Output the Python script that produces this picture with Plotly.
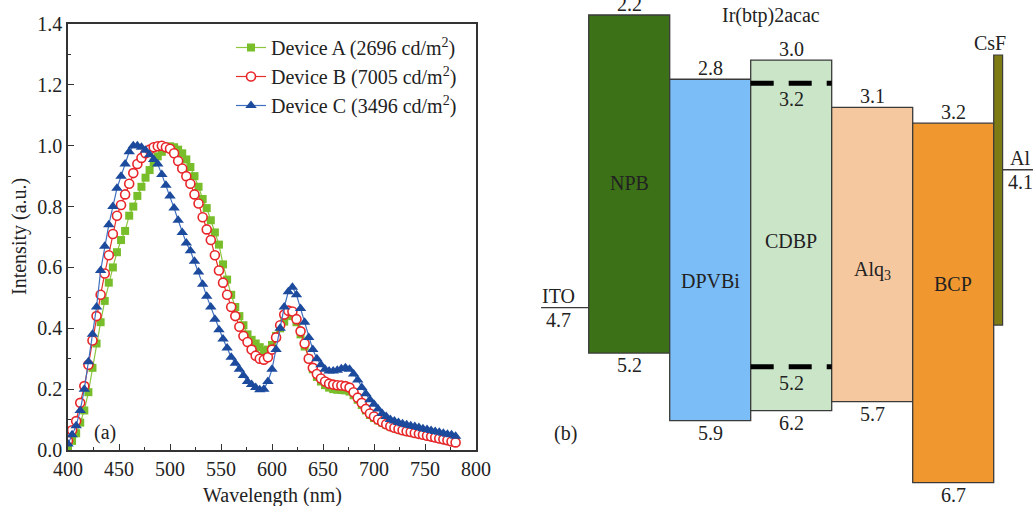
import plotly.graph_objects as go

# ---------------- Panel (a) data: EL spectra ----------------
wavelength = list(range(400, 781, 4))

dev_a = [0.005, 0.03, 0.055, 0.09, 0.13, 0.19, 0.27, 0.35, 0.42, 0.49,
         0.55, 0.60, 0.65, 0.69, 0.72, 0.77, 0.80, 0.835, 0.865, 0.895,
         0.92, 0.945, 0.965, 0.98, 0.99, 0.998, 0.995, 0.987, 0.975, 0.955,
         0.93, 0.90, 0.865, 0.825, 0.795, 0.755, 0.715, 0.675, 0.61, 0.56,
         0.51, 0.47, 0.44, 0.41, 0.38, 0.362, 0.35, 0.338, 0.325, 0.33,
         0.345, 0.375, 0.40, 0.422, 0.442, 0.44, 0.42, 0.38, 0.34, 0.30,
         0.265, 0.24, 0.225, 0.213, 0.205, 0.20, 0.198, 0.197, 0.196, 0.192,
         0.18, 0.165, 0.148, 0.13, 0.115, 0.105, 0.097, 0.09, 0.083, 0.077,
         0.072, 0.068, 0.064, 0.061, 0.058, 0.055, 0.052, 0.049, 0.046, 0.043,
         0.04, 0.037, 0.034, 0.031, 0.028, 0.026]

dev_b = [0.03, 0.065, 0.095, 0.155, 0.21, 0.28, 0.36, 0.44, 0.51, 0.58,
         0.64, 0.71, 0.77, 0.805, 0.84, 0.875, 0.91, 0.94, 0.96, 0.975,
         0.987, 0.995, 0.998, 1.0, 0.995, 0.99, 0.975, 0.95, 0.925, 0.90,
         0.875, 0.84, 0.81, 0.765, 0.725, 0.69, 0.64, 0.59, 0.55, 0.51,
         0.47, 0.44, 0.405, 0.375, 0.355, 0.33, 0.31, 0.30, 0.297, 0.305,
         0.33, 0.37, 0.41, 0.445, 0.458, 0.455, 0.43, 0.39, 0.35, 0.30,
         0.27, 0.25, 0.235, 0.225, 0.218, 0.215, 0.213, 0.212, 0.21, 0.205,
         0.19, 0.172, 0.155, 0.135, 0.12, 0.11, 0.10, 0.092, 0.085, 0.078,
         0.073, 0.069, 0.065, 0.062, 0.059, 0.056, 0.053, 0.05, 0.047, 0.044,
         0.041, 0.038, 0.035, 0.032, 0.028, 0.025]

dev_c = [0.02, 0.05, 0.08, 0.13, 0.20, 0.29, 0.38, 0.47, 0.59, 0.67,
         0.74, 0.80, 0.86, 0.90, 0.94, 0.98, 1.0, 1.0, 0.995, 0.985,
         0.97, 0.955, 0.94, 0.905, 0.87, 0.835, 0.795, 0.755, 0.715, 0.68,
         0.655, 0.62, 0.585, 0.545, 0.505, 0.47, 0.43, 0.395, 0.365, 0.335,
         0.305, 0.285, 0.265, 0.245, 0.225, 0.215, 0.205, 0.198, 0.20, 0.225,
         0.265, 0.33, 0.40, 0.47, 0.52, 0.535, 0.51, 0.465, 0.42, 0.37,
         0.33, 0.30, 0.28, 0.265, 0.26, 0.26, 0.262, 0.267, 0.27, 0.265,
         0.25, 0.23, 0.205, 0.185, 0.165, 0.15, 0.135, 0.12, 0.11, 0.10,
         0.095, 0.09, 0.086, 0.083, 0.08, 0.077, 0.074, 0.07, 0.067, 0.064,
         0.061, 0.058, 0.055, 0.052, 0.05, 0.045]

series_names = ["Device A (2696 cd/m<sup>2</sup>)",
                "Device B (7005 cd/m<sup>2</sup>)",
                "Device C (3496 cd/m<sup>2</sup>)"]

x_ticks = [400, 450, 500, 550, 600, 650, 700, 750, 800]
y_ticks = [0.0, 0.2, 0.4, 0.6, 0.8, 1.0, 1.2, 1.4]

# ---------------- Panel (b) data: energy levels ----------------
layers = ["NPB", "DPVBi", "CDBP", "Alq<sub>3</sub>", "BCP"]
lumo_label = ["2.2", "2.8", "3.0", "3.1", "3.2"]
homo_label = ["5.2", "5.9", "6.2", "5.7", "6.7"]
# levels as drawn in the (not-to-scale) diagram (eV)
lumo_drawn = [2.20, 2.77, 2.60, 3.02, 3.16]
homo_drawn = [5.20, 5.80, 5.71, 5.63, 6.35]
name_level = [3.69, 4.56, 4.205, 4.47, 4.59]
layer_colors = ["#3D7118", "#7BBDF6", "#CBE5C9", "#F6C8A0", "#F0982F"]

dopant = "Ir(btp)2acac"
dopant_lumo_label, dopant_homo_label = "3.2", "5.2"
dopant_lumo_drawn, dopant_homo_drawn = 2.806, 5.321

csf_top, csf_bottom = 2.555, 4.951
ito_label, ito_drawn = "4.7", 4.797
al_label, al_drawn = "4.1", 3.573

FONT = "Liberation Serif"
TXT = "#222222"
AX = "#333333"

fig = go.Figure()

styles = [
    dict(line=dict(color="#8CC63F", width=1.2),
         marker=dict(symbol="square", size=8, color="#78BE2A")),
    dict(line=dict(color="#E8302A", width=1.2),
         marker=dict(symbol="circle", size=9, color="white",
                     line=dict(width=1.6, color="#E8262A"))),
    dict(line=dict(color="#3F6FC0", width=1.2),
         marker=dict(symbol="triangle-up", size=10, color="#1C4A9C")),
]
for name, ys, st in zip(series_names, [dev_a, dev_b, dev_c], styles):
    fig.add_trace(go.Scatter(x=wavelength, y=ys, mode="lines+markers", name=name,
                             xaxis="x", yaxis="y", **st))

W, H = 1033, 506
ax_l, ax_r, ax_t, ax_b = 68, 476, 24, 450
px_per_layer = 81.0
npb_left_px = 588.7
px_per_ev = 112.7
top_px_ev = 2.2 - 15 / px_per_ev
bot_px_ev = 2.2 + (H - 15) / px_per_ev
b_left_px = 530

axis_common = dict(showline=True, linecolor=AX, linewidth=1.5, mirror=True,
                   ticks="inside", ticklen=6, tickwidth=1.3, tickcolor=AX,
                   showgrid=False, zeroline=False, automargin=False,
                   tickfont=dict(family=FONT, size=20, color=TXT))

fig.update_layout(
    template="none",
    width=W, height=H,
    margin=dict(l=0, r=0, t=0, b=0, pad=0, autoexpand=False),
    paper_bgcolor="white", plot_bgcolor="white",
    showlegend=True,
    legend=dict(x=231 / W, y=1 - 28 / H, xanchor="left", yanchor="top",
                font=dict(family=FONT, size=20, color=TXT),
                bgcolor="rgba(0,0,0,0)", borderwidth=0, itemwidth=30, tracegroupgap=0),
    xaxis=dict(domain=[ax_l / W, ax_r / W], range=[400, 800], anchor="y",
               tickvals=x_ticks, ticktext=[str(v) for v in x_ticks],
               minor=dict(ticks="inside", ticklen=3, dtick=25, tick0=400,
                          tickcolor=AX, showgrid=False),
               **axis_common),
    yaxis=dict(domain=[1 - ax_b / H, 1 - ax_t / H], range=[0, 1.4], anchor="x",
               tickvals=y_ticks, ticktext=[f"{v:.1f}" for v in y_ticks],
               minor=dict(ticks="inside", ticklen=3, dtick=0.1, tick0=0,
                          tickcolor=AX, showgrid=False),
               **axis_common),
    xaxis2=dict(domain=[b_left_px / W, 1],
                range=[(b_left_px - npb_left_px) / px_per_layer,
                       (W - npb_left_px) / px_per_layer],
                anchor="y2", visible=False, showgrid=False, zeroline=False, automargin=False),
    yaxis2=dict(domain=[0, 1], range=[bot_px_ev, top_px_ev], anchor="x2",
                visible=False, showgrid=False, zeroline=False, automargin=False),
)

ann = []
def text(x, y, s, xref="x2", yref="y2", size=20, xanchor="center", yanchor="middle", **kw):
    ann.append(dict(x=x, y=y, xref=xref, yref=yref, text=s, showarrow=False,
                    xanchor=xanchor, yanchor=yanchor,
                    font=dict(family=FONT, size=size, color=TXT), **kw))

# panel (a) labels
text(436, 0.056, "(a)", xref="x", yref="y")
text((ax_l + ax_r) / 2 / W, 1 - 495 / H, "Wavelength (nm)", xref="paper", yref="paper")
text(20 / W, 1 - 237 / H, "Intensity (a.u.)", xref="paper", yref="paper", textangle=-90)

shapes = []
for i, (nm, lt, hl, ld, hd, col, nl) in enumerate(
        zip(layers, lumo_label, homo_label, lumo_drawn, homo_drawn, layer_colors, name_level)):
    shapes.append(dict(type="rect", xref="x2", yref="y2", x0=i, x1=i + 1, y0=ld, y1=hd,
                       fillcolor=col, line=dict(color="#3A3A3A", width=1.3), layer="below"))
    text(i + 0.5, ld, lt, yanchor="bottom", yshift=-2)
    text(i + 0.5, hd, hl, yanchor="top", yshift=1)
    text(i + 0.5, nl, nm)

# dopant levels inside CDBP
for lvl, lab in [(dopant_lumo_drawn, dopant_lumo_label), (dopant_homo_drawn, dopant_homo_label)]:
    shapes.append(dict(type="line", xref="x2", yref="y2", x0=2.0, x1=3.0, y0=lvl, y1=lvl,
                       line=dict(color="black", width=5, dash="23px,15px")))
    text(2.5, lvl, lab, yanchor="top", yshift=-3)
text(2.25, 2.2, dopant)

# CsF
shapes.append(dict(type="rect", xref="x2", yref="y2", x0=5.0, x1=5.11, y0=csf_top, y1=csf_bottom,
                   fillcolor="#7E7A14", line=dict(color="#3A3A3A", width=1.2)))
text(4.955, csf_top, "CsF", yanchor="bottom", yshift=-1)

# ITO and Al work functions
shapes.append(dict(type="line", xref="x2", yref="y2", x0=-0.588, x1=0, y0=ito_drawn, y1=ito_drawn,
                   line=dict(color="#3A3A3A", width=1.3)))
text(-0.367, ito_drawn, "ITO", yanchor="bottom", yshift=-1)
text(-0.367, ito_drawn, ito_label, yanchor="top", yshift=1)
shapes.append(dict(type="line", xref="x2", yref="y2", x0=5.11, x1=5.6, y0=al_drawn, y1=al_drawn,
                   line=dict(color="#3A3A3A", width=1.3)))
text(5.325, al_drawn, "Al", yanchor="bottom", yshift=-1)
text(5.325, al_drawn, al_label, yanchor="top", yshift=1)

text(-0.29, 5.909, "(b)")

fig.update_layout(shapes=shapes, annotations=ann)
fig.write_html("out.html",
               config={"displayModeBar": False},
               post_script="document.body.style.margin='0';document.body.style.padding='0';"
                           "document.body.style.overflow='hidden';")
